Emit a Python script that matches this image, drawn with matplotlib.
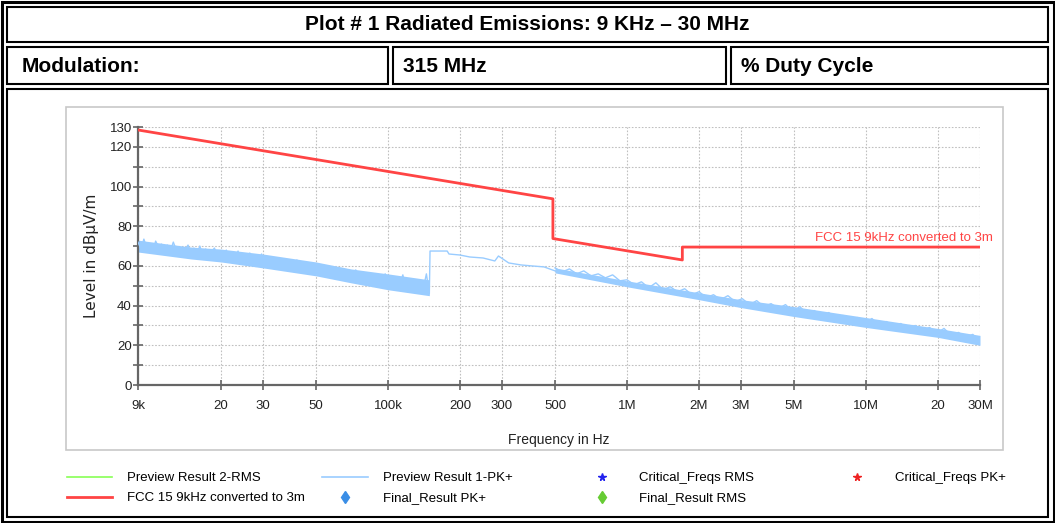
import numpy as np
import matplotlib
matplotlib.use('Agg')
import matplotlib.pyplot as plt
from matplotlib import font_manager
from matplotlib.patches import Rectangle
from matplotlib.ticker import NullLocator

# ---- data ----
# FCC 15.209 limit converted to 3 m (breakpoints)
limit_freq = [9e3, 490e3, 490e3, 1.705e6, 1.705e6, 30e6]
limit_level = [128.5, 93.8, 73.8, 63.0, 69.5, 69.5]

# Preview Result 1-PK+, noisy part 9 kHz .. 149 kHz (samples, log spaced)
pk_low_vals = [72, 68.5, 73.5, 69, 71, 67, 72.5, 69.5, 71, 68,
               70.5, 67.5, 72, 68, 69.5, 64.5, 68, 70.5, 66.5, 69,
               66, 70, 65.5, 68.5, 64, 67.5, 69, 63.5, 67, 64,
               68, 62.5, 66, 64, 67.5, 61.5, 65.5, 63, 66.5, 60.5,
               64.5, 62, 66, 60, 63.5, 61, 64, 59, 63, 60.5,
               62.5, 58, 61.5, 59.5, 63, 57, 61, 58.5, 60.5, 56,
               60, 57.5, 59.5, 55, 59, 56.5, 58, 54, 58.5, 55,
               57, 53.5, 56.5, 54, 58, 52.5, 55.5, 53, 56, 51,
               55, 52.5, 54.5, 50.5, 56, 51, 54, 49.5, 53.5, 51,
               55.5, 48.5, 53, 50, 52.5, 47.5, 52, 49, 56, 46]
# envelope of the noise band below 150 kHz
band_freq = [9e3, 15e3, 20e3, 30e3, 50e3, 70e3, 100e3, 149e3]
band_low = [67, 63.5, 62, 59, 55, 51.5, 48, 45]
band_high = [73, 69.5, 68.5, 66, 62, 58.5, 56, 53]

# Preview Result 1-PK+, 150 kHz .. 30 MHz
pk_freq = [150e3, 177e3, 180e3, 200e3, 220e3, 250e3, 280e3, 290e3, 320e3, 360e3,
           400e3, 450e3, 500e3, 600e3, 700e3, 850e3, 1e6, 1.3e6, 1.6e6, 2e6,
           2.5e6, 3e6, 4e6, 5e6, 7e6, 10e6, 14e6, 20e6, 30e6]
pk_vals = [67.5, 67.5, 66, 65.5, 64.5, 64, 62.5, 65, 61.5, 60.5,
           60, 59.5, 57.5, 56, 54.5, 53, 51, 48.5, 47, 44.5,
           43, 41, 39, 37, 34, 31, 28.5, 26, 22.5]
# noise samples 500 kHz .. 30 MHz (log spaced)
pk_high_vals = [59, 57, 58.5, 56, 57.5, 55, 56, 54, 55.5, 52.5,
                53, 50.5, 52, 49, 51.5, 48, 49.5, 47, 48.5, 45.5,
                47, 44, 45.5, 43, 45, 42, 43.5, 40.5, 42.5, 39.5,
                41, 38.5, 40.5, 37, 39.5, 35.5, 37.5, 34.5, 36.5, 33.5,
                35, 32.5, 34, 31, 33.5, 30, 32, 29.5, 31, 28,
                30, 27.5, 29, 26, 28.5, 25, 26.5, 24, 25.5, 21.5]
# envelope of the noise band above 500 kHz
rband_freq = [500e3, 1e6, 2e6, 3e6, 5e6, 10e6, 20e6, 30e6]
rband_low = [56.5, 49.5, 43, 39, 34.5, 29, 24, 20]
rband_high = [59, 52.5, 46.5, 43, 39.5, 34, 28.5, 25]

x_ticks = [9e3, 20e3, 30e3, 50e3, 100e3, 200e3, 300e3, 500e3,
           1e6, 2e6, 3e6, 5e6, 10e6, 20e6, 30e6]
x_tick_labels = ['9k', '20', '30', '50', '100k', '200', '300', '500',
                 '1M', '2M', '3M', '5M', '10M', '20', '30M']
y_ticks = [0, 20, 40, 60, 80, 100, 120, 130]
y_minor = [10, 30, 50, 70, 90, 110]

title = 'Plot # 1 Radiated Emissions: 9 KHz \u2013 30 MHz'
row_texts = ['Modulation:', '315 MHz', '% Duty Cycle']

RED = '#ff4444'
BLUE = '#99ccff'
W, H = 1055, 523

names = {f.name for f in font_manager.fontManager.ttflist}
narrow = 'Liberation Sans Narrow' if 'Liberation Sans Narrow' in names else 'Liberation Sans'
plt.rcParams['font.family'] = ['Liberation Sans', 'DejaVu Sans']

fig = plt.figure(figsize=(W / 100, H / 100), dpi=100)

# overlay in pixel coordinates for table frame and legend
ov = fig.add_axes([0, 0, 1, 1], zorder=0)
ov.set_xlim(0, W)
ov.set_ylim(H, 0)
ov.axis('off')

def box(x0, y0, x1, y1, lw=1.5, color='black'):
    ov.add_patch(Rectangle((x0, y0), x1 - x0, y1 - y0, fill=False, lw=lw, ec=color))

box(1.5, 1.5, W - 1.5, H - 1.5, lw=2.2)
box(7, 7, W - 7, 42)
box(7, 47, 388, 84)
box(393, 47, 726, 84)
box(731, 47, W - 7, 84)
box(7, 89, W - 7, H - 6)
# chart panel
box(66, 107, 1003, 450, lw=1.2, color='#c8c8c8')

ov.text(W / 2, 25, title, ha='center', va='center', fontsize=15,
        fontweight='bold', family=narrow)
for x, t in zip([22, 403, 741], row_texts):
    ov.text(x, 67, t, ha='left', va='center', fontsize=15, fontweight='bold', family=narrow)

# legend
leg_fs = 9.5
ov.plot([67, 112], [477, 477], color='#88ff55', lw=1.2)
ov.text(127, 478, 'Preview Result 2-RMS', va='center', fontsize=leg_fs)
ov.plot([322, 368], [477, 477], color=BLUE, lw=1.2)
ov.text(383, 478, 'Preview Result 1-PK+', va='center', fontsize=leg_fs)
ov.plot([602], [477], marker='*', color='#2222ee', ms=5.5, ls='none')
ov.text(639, 478, 'Critical_Freqs RMS', va='center', fontsize=leg_fs)
ov.plot([857], [477], marker='*', color='#ee2222', ms=5.5, ls='none')
ov.text(895, 478, 'Critical_Freqs PK+', va='center', fontsize=leg_fs)
ov.plot([67, 112], [497, 497], color=RED, lw=2)
ov.text(127, 498, 'FCC 15 9kHz converted to 3m', va='center', fontsize=leg_fs)
ov.plot([345], [497], marker='d', color='#3a8ee6', ms=6.5, ls='none')
ov.text(383, 498, 'Final_Result PK+', va='center', fontsize=leg_fs)
ov.plot([602], [497], marker='d', color='#66cc33', ms=6.5, ls='none')
ov.text(639, 498, 'Final_Result RMS', va='center', fontsize=leg_fs)

# main chart
x0, x1, y0, y1 = 138, 980, 127, 385
ax = fig.add_axes([x0 / W, (H - y1) / H, (x1 - x0) / W, (y1 - y0) / H], zorder=1)
ax.set_xscale('log')
ax.set_xlim(9e3, 30e6)
ax.set_ylim(0, 130)

low_freq = np.geomspace(9e3, 149e3, len(pk_low_vals))
high_freq = np.geomspace(500e3, 30e6, len(pk_high_vals))
ax.fill_between(band_freq, band_low, band_high, color=BLUE, lw=0, zorder=2)
ax.fill_between(rband_freq, rband_low, rband_high, color=BLUE, lw=0, zorder=2)
ax.plot(list(low_freq) + pk_freq, pk_low_vals + pk_vals, color=BLUE, lw=1, zorder=3)
ax.plot(high_freq, pk_high_vals, color=BLUE, lw=1, zorder=3)
ax.plot(limit_freq, limit_level, color=RED, lw=2, zorder=4)
ax.annotate('FCC 15 9kHz converted to 3m', xy=(30e6, 69.5), xytext=(13, 3),
            textcoords='offset pixels', ha='right', va='bottom', color=RED, fontsize=9.5)

ax.set_xticks(x_ticks)
ax.set_xticklabels(x_tick_labels)
ax.xaxis.set_minor_locator(NullLocator())
ax.set_yticks(y_ticks)
ax.set_yticks(y_minor, minor=True)
ax.grid(True, which='both', color='#c0c0c0', lw=0.8, ls=(0, (1.5, 1.5)))
for s in ['top', 'right']:
    ax.spines[s].set_visible(False)
for s in ['left', 'bottom']:
    ax.spines[s].set_color('#666666')
    ax.spines[s].set_linewidth(1.6)
ax.tick_params(which='both', direction='inout', length=7, width=1.2, color='#666666',
               labelsize=9.5, labelcolor='#222222')
ax.tick_params(axis='x', pad=7)
ax.tick_params(axis='y', pad=1)

ax.set_ylabel('Level in dB\u00b5V/m', fontsize=11, family=['DejaVu Sans'], color='#222222')
ax.yaxis.set_label_coords(-(x0 - 99) / (x1 - x0), 0.5)
ax.set_xlabel('Frequency in Hz', fontsize=10, color='#222222', va='center')
ax.xaxis.set_label_coords(0.5, -(440 - y1) / (y1 - y0))

fig.savefig('out.png', dpi=100)
